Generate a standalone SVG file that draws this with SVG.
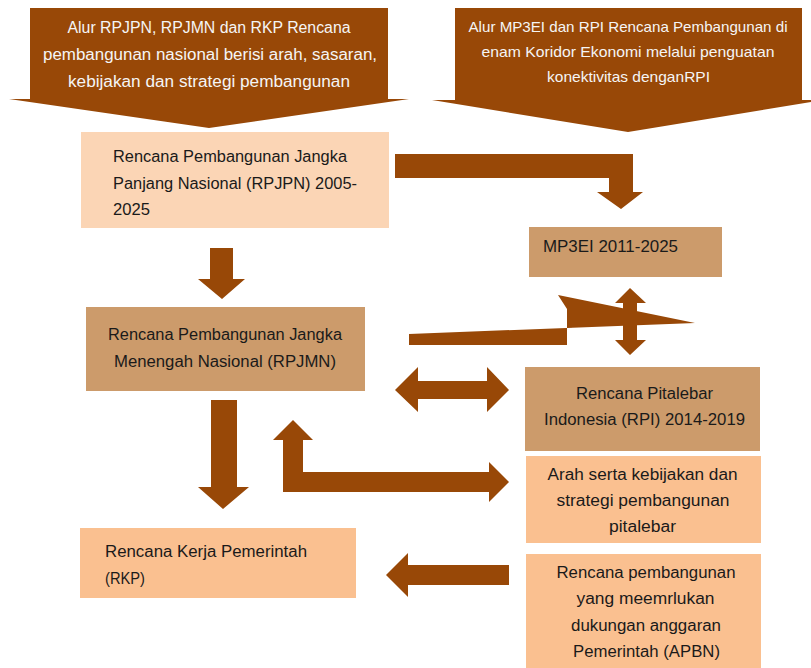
<svg xmlns="http://www.w3.org/2000/svg" width="811" height="668" viewBox="0 0 811 668">
<style>
.t{font-family:"Liberation Sans",Arial,sans-serif;font-size:16px;fill:#1a1a1a}
.w{font-family:"Liberation Sans",Arial,sans-serif;font-size:16px;fill:#f5f5f5}
.s{font-size:15px}
.m{text-anchor:middle}
.arr{fill:#984807}
.call{fill:#984807}
.peach{fill:#fbd5b5}
.tan{fill:#cc9b6b}
.org{fill:#fac090}
</style>
<rect width="811" height="668" fill="#ffffff"/>
<g id="callout-left">
<polygon class="call" points="30,8 388,8 388,99 409,99 209,128 9,99 30,99"/>
<text class="w m" x="209" y="33" textLength="283" lengthAdjust="spacingAndGlyphs">Alur RPJPN, RPJMN dan RKP Rencana</text>
<text class="w m" x="210" y="60" textLength="334" lengthAdjust="spacingAndGlyphs">pembangunan nasional berisi arah, sasaran,</text>
<text class="w m" x="209" y="87" textLength="282" lengthAdjust="spacingAndGlyphs">kebijakan dan strategi pembangunan</text>
</g>
<g id="callout-right">
<polygon class="call" points="455,8 802,8 802,100 824,100 628,132 432,100 455,100"/>
<text class="w s m" x="628" y="32" textLength="319" lengthAdjust="spacingAndGlyphs">Alur MP3EI dan RPI Rencana Pembangunan di</text>
<text class="w s m" x="628" y="57" textLength="293" lengthAdjust="spacingAndGlyphs">enam Koridor Ekonomi melalui penguatan</text>
<text class="w s m" x="628.5" y="82" textLength="163" lengthAdjust="spacingAndGlyphs">konektivitas denganRPI</text>
</g>
<g id="connectors">
<polygon class="arr" points="395,154 633,154 633,192 643,192 621,209 597,192 609,192 609,178 395,178"/>
<polygon class="arr" points="210,248 233,248 233,279 245,279 222,299 198,279 210,279"/>
<polygon class="arr" points="409,334 695,323 558,295 567,309 567,345 409,345"/>
<polygon class="arr" points="630,288 646,303 637,303 637,340 646,340 630,355 615,340 623,340 623,303 615,303"/>
<polygon class="arr" points="395,390 418,367 418,381 487,381 487,367 509,390 487,412 487,399 418,399 418,412"/>
<polygon class="arr" points="293,420 313,440 303,440 303,472 489,472 489,462 509,482 489,502 489,492 283,492 283,440 273,440"/>
<polygon class="arr" points="211,400 237,400 237,487 249,487 223,509 198,487 211,487"/>
<polygon class="arr" points="386,575 408,553 408,565 509,565 509,585 408,585 408,597"/>
</g>
<g id="rpjpn">
<rect class="peach" x="81" y="132" width="308" height="96"/>
<text class="t" x="113" y="162" textLength="234" lengthAdjust="spacingAndGlyphs">Rencana Pembangunan Jangka</text>
<text class="t" x="113" y="189" textLength="244" lengthAdjust="spacingAndGlyphs">Panjang Nasional (RPJPN) 2005-</text>
<text class="t" x="113" y="215" textLength="37" lengthAdjust="spacingAndGlyphs">2025</text>
</g>
<g id="mp3ei">
<rect class="tan" x="529" y="227" width="193" height="50"/>
<text class="t" x="543" y="252" textLength="135" lengthAdjust="spacingAndGlyphs">MP3EI 2011-2025</text>
</g>
<g id="rpjmn">
<rect class="tan" x="86" y="307" width="279" height="84"/>
<text class="t m" x="225" y="340" textLength="234" lengthAdjust="spacingAndGlyphs">Rencana Pembangunan Jangka</text>
<text class="t m" x="225" y="367" textLength="222" lengthAdjust="spacingAndGlyphs">Menengah Nasional (RPJMN)</text>
</g>
<g id="rpi">
<rect class="tan" x="525" y="367" width="235" height="84"/>
<text class="t m" x="644.5" y="399" textLength="137" lengthAdjust="spacingAndGlyphs">Rencana Pitalebar</text>
<text class="t m" x="644.5" y="425" textLength="201" lengthAdjust="spacingAndGlyphs">Indonesia (RPI) 2014-2019</text>
</g>
<g id="arah">
<rect class="org" x="526" y="456" width="235" height="87"/>
<text class="t m" x="642.5" y="480" textLength="190" lengthAdjust="spacingAndGlyphs">Arah serta kebijakan dan</text>
<text class="t m" x="643" y="506" textLength="173" lengthAdjust="spacingAndGlyphs">strategi pembangunan</text>
<text class="t m" x="642.5" y="532" textLength="67" lengthAdjust="spacingAndGlyphs">pitalebar</text>
</g>
<g id="apbn">
<rect class="org" x="526" y="554" width="235" height="114"/>
<text class="t m" x="646" y="578" textLength="179" lengthAdjust="spacingAndGlyphs">Rencana pembangunan</text>
<text class="t m" x="645.5" y="604" textLength="138" lengthAdjust="spacingAndGlyphs">yang meemrlukan</text>
<text class="t m" x="646" y="631" textLength="150" lengthAdjust="spacingAndGlyphs">dukungan anggaran</text>
<text class="t m" x="646.5" y="657" textLength="147" lengthAdjust="spacingAndGlyphs">Pemerintah (APBN)</text>
</g>
<g id="rkp">
<rect class="org" x="80" y="528" width="276" height="70"/>
<text class="t" x="105" y="557" textLength="202" lengthAdjust="spacingAndGlyphs">Rencana Kerja Pemerintah</text>
<text class="t" x="105" y="584" textLength="40" lengthAdjust="spacingAndGlyphs">(RKP)</text>
</g>
</svg>
